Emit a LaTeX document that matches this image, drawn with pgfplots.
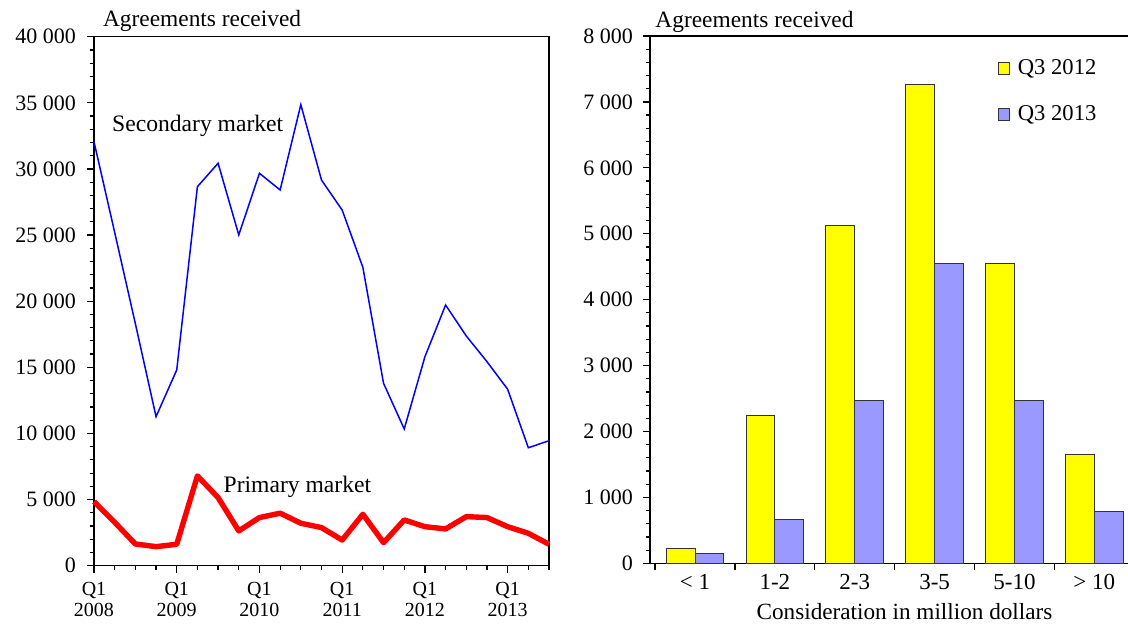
\documentclass[border=0pt]{standalone}
\usepackage{pgfplots}
\pgfplotsset{compat=1.18}
\usepackage{fontspec}
\setmainfont{Liberation Serif}
\definecolor{barblue}{HTML}{9999FF}
\definecolor{baryellow}{HTML}{FFFF00}
\definecolor{lineblue}{HTML}{0000FF}
\definecolor{linered}{HTML}{FF0000}
\begin{document}
\begin{tikzpicture}
\useasboundingbox (0,0) rectangle (564pt,312.5pt);
\begin{axis}[
  at={(47pt,29.65pt)}, anchor=south west,
  width=227.5pt, height=264.5pt, scale only axis,
  xmin=0, xmax=22, ymin=0, ymax=40000,
  scaled y ticks=false,
  xtick={0,4,8,12,16,20},
  xticklabels={Q1\\2008,Q1\\2009,Q1\\2010,Q1\\2011,Q1\\2012,Q1\\2013},
  minor xtick={0,...,22},
  ytick={0,5000,10000,15000,20000,25000,30000,35000,40000},
  yticklabels={0,5~000,10~000,15~000,20~000,25~000,30~000,35~000,40~000},
  minor ytick={0,1000,...,40000},
  tick align=outside, tick pos=left,
  major tick length=3.5pt, minor tick length=2pt,
  every tick/.style={black, line width=0.6pt},
  axis line style={black, line width=0.7pt},
  xticklabel style={align=center, yshift=-1.2pt, font=\fontsize{10}{10.5}\selectfont},
  yticklabel style={xshift=-2pt, font=\fontsize{11}{13}\selectfont},
  clip=false,
]
\addplot[lineblue, line width=0.75pt] coordinates {
(0,32060) (1,25200) (2,18300) (3,11270) (4,14800) (5,28660) (6,30430)
(7,25010) (8,29670) (9,28410) (10,34860) (11,29160) (12,26890) (13,22560)
(14,13790) (15,10340) (16,15800) (17,19710) (18,17370) (19,15430) (20,13340)
(21,8920) (22,9450)};
\addplot[linered, line width=2.7pt, line join=round] coordinates {
(0,4850) (1,3280) (2,1640) (3,1440) (4,1620) (5,6790) (6,5150)
(7,2630) (8,3640) (9,3970) (10,3210) (11,2880) (12,1940) (13,3890)
(14,1740) (15,3460) (16,2950) (17,2780) (18,3710) (19,3640) (20,2950)
(21,2450) (22,1620)};
\node[anchor=base west, inner sep=0pt, font=\fontsize{11.8}{14}\selectfont] at (axis cs:0.86,32820) {Secondary market};
\node[anchor=base west, inner sep=0pt, font=\fontsize{11.8}{14}\selectfont] at (axis cs:6.25,5520) {Primary market};
\end{axis}

\begin{axis}[
  at={(325pt,30.85pt)}, anchor=south west,
  width=239pt, height=263.65pt, scale only axis,
  ybar=0pt, bar width=0.36,
  xmin=-0.5636, xmax=5.422, ymin=0, ymax=8000,
  scaled y ticks=false,
  axis x line*=bottom, axis y line*=left,
  xtick={-0.5,0.5,1.5,2.5,3.5,4.5},
  xticklabels={},
  extra x ticks={0,1,2,3,4,5},
  extra x tick labels={< 1,1-2,2-3,3-5,5-10,> 10},
  extra x tick style={major tick length=0pt, xticklabel style={yshift=-1.8pt, font=\fontsize{11.5}{13}\selectfont}},
  ytick={0,1000,...,8000},
  yticklabels={0,1~000,2~000,3~000,4~000,5~000,6~000,7~000,8~000},
  minor ytick={0,200,...,8000},
  tick align=outside,
  major tick length=3.5pt, minor tick length=2pt,
  every tick/.style={black, line width=0.6pt},
  axis line style={black, line width=0.7pt},
  yticklabel style={xshift=-1.5pt, font=\fontsize{11}{13}\selectfont},
  legend style={draw=none, fill=none, at={(0.7266,0.962)}, anchor=north west,
    inner sep=0pt, row sep=11pt, font=\fontsize{11.3}{13}\selectfont,
    nodes={inner sep=1.5pt}},
  legend cell align=left,
  legend image code/.code={\draw[#1, line width=0.5pt] (0pt,-2.8pt) rectangle (5.6pt,2.8pt);},
  clip=false,
]
\addplot[fill=baryellow, draw=black!80, line width=0.5pt] coordinates {
(0,221) (1,2240) (2,5125) (3,7260) (4,4545) (5,1655)};
\addplot[fill=barblue, draw=black!80, line width=0.5pt] coordinates {
(0,146) (1,657) (2,2470) (3,4545) (4,2470) (5,790)};
\legend{\hspace{2.5pt}Q3 2012,\hspace{2.5pt}Q3 2013}
\draw[black, line width=0.7pt] (rel axis cs:0,1) -- (rel axis cs:1,1);
\end{axis}

\node[anchor=base west, inner sep=0pt, font=\fontsize{11.7}{14}\selectfont] at (51.3pt,299.2pt) {Agreements received};
\node[anchor=base west, inner sep=0pt, font=\fontsize{11.7}{14}\selectfont] at (327.5pt,298.5pt) {Agreements received};
\node[anchor=base, inner sep=0pt, font=\fontsize{11.6}{14}\selectfont] at (452.25pt,2.85pt) {Consideration in million dollars};
\end{tikzpicture}
\end{document}
